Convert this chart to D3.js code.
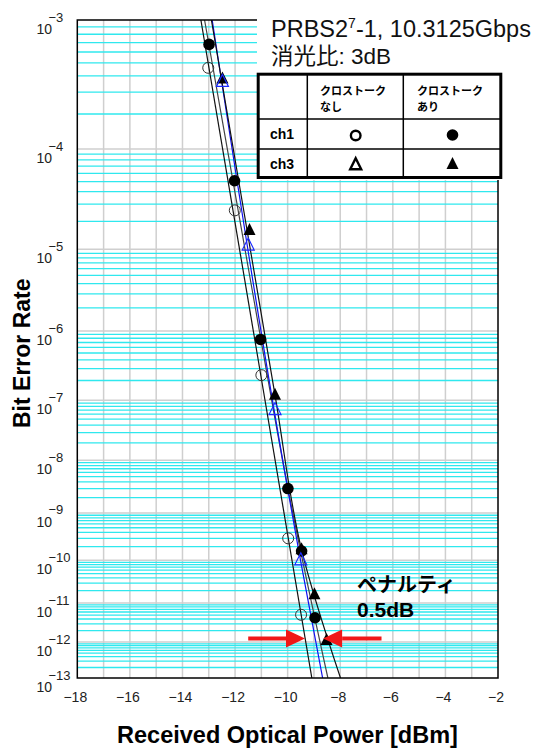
<!DOCTYPE html>
<html><head><meta charset="utf-8">
<script src="https://cdn.jsdelivr.net/npm/d3@7"></script>
<style>body{margin:0;background:#fff}svg{display:block}</style>
</head><body>
<svg id="c" width="533" height="749"></svg>
<script>
// ---------- data ----------
const xTickValues = [-18, -16, -14, -12, -10, -8, -6, -4, -2];
const xGridValues = [-17, -16, -15, -14, -13, -12, -11, -10, -9, -8, -7, -6, -5, -4, -3];
const yDecadeExponents = [3, 4, 5, 6, 7, 8, 9, 10, 11, 12, 13];
const yMinorMantissas = [2, 3, 4, 5, 6, 7, 8, 9];

// measured points
const ch1NoXtPower = [-13.02, -12.01, -11.0, -9.98, -9.49];
const ch1NoXtBer   = [4.6e-4, 2.6e-5, 2.4e-7, 3.0e-10, 5.1e-12];
const ch1XtPower   = [-12.99, -12.02, -11.03, -9.99, -9.47, -8.96];
const ch1XtBer     = [6.8e-4, 5.1e-5, 7.7e-7, 3.0e-9, 1.6e-10, 4.3e-12];
const ch3NoXtPower = [-12.48, -11.5, -10.48, -9.5];
const ch3NoXtBer   = [3.6e-4, 1.1e-5, 7.0e-8, 1.0e-10];
const ch3XtPower   = [-12.48, -11.45, -10.48, -9.47, -8.98, -8.52];
const ch3XtBer     = [3.8e-4, 1.6e-5, 1.2e-7, 1.7e-10, 1.6e-11, 1.1e-12];

// fitted curves
const fitCh1NoXtPower = [-13.30, -9.08];
const fitCh1NoXtBer   = [1e-3, 1e-13];
const fitCh1XtPower   = [-13.16, -11.02, -9.99, -8.47];
const fitCh1XtBer     = [1e-3, 7.8e-7, 3.0e-9, 1e-13];
const fitCh3NoXtPower = [-12.87, -9.51, -8.67];
const fitCh3NoXtBer   = [1e-3, 1.0e-10, 1e-13];
const fitCh3XtPower   = [-12.90, -10.48, -9.47, -7.99];
const fitCh3XtBer     = [1e-3, 1.2e-7, 1.7e-10, 1e-13];

// penalty annotation
const penaltyBer = 1.25e-12;
const leftArrowPower  = [-11.50, -9.34];   // tail, tip
const rightArrowPower = [-6.43, -8.65];    // tail, tip

// ---------- layout ----------
const L = 77.3, R = 498, T = 20, B = 678;
const svg = d3.select('#c');
const x = d3.scaleLinear().domain([-18, -2]).range([L, R]);
const yT = d3.scaleLinear().domain([Math.log10(3), Math.log10(13)]).range([T, B]);
const y = ber => yT(Math.log10(-Math.log10(ber)));
const LAT = "'Liberation Sans', Arial, sans-serif";
const CJK = "'Liberation Sans', 'Noto Sans CJK JP', sans-serif";

// vertical grid
svg.append('g').selectAll('line').data(xGridValues).join('line')
  .attr('x1', d => x(d)).attr('x2', d => x(d)).attr('y1', T).attr('y2', B)
  .attr('stroke', '#cfcfcf').attr('stroke-width', 1.5);

// minor cyan horizontal grid
const minor = [];
yDecadeExponents.slice(0, -1).forEach(n => yMinorMantissas.forEach(k => minor.push(k * Math.pow(10, -(n + 1)))));
svg.append('g').selectAll('line').data(minor).join('line')
  .attr('x1', L).attr('x2', R).attr('y1', d => y(d)).attr('y2', d => y(d))
  .attr('stroke', '#2fe8ee').attr('stroke-width', 1.3);

// decade gray lines
svg.append('g').selectAll('line').data(yDecadeExponents.slice(1, -1)).join('line')
  .attr('x1', L).attr('x2', R).attr('y1', d => y(Math.pow(10, -d))).attr('y2', d => y(Math.pow(10, -d)))
  .attr('stroke', '#cfcfcf').attr('stroke-width', 1.5);

// fitted curves
svg.append('clipPath').attr('id', 'pc').append('rect')
  .attr('x', L).attr('y', T).attr('width', R - L).attr('height', B - T);
const lineGen = d3.line().x(d => x(d[0])).y(d => y(d[1])).curve(d3.curveMonotoneY);
const fits = [
  {p: fitCh1NoXtPower, b: fitCh1NoXtBer, c: '#111'},
  {p: fitCh1XtPower, b: fitCh1XtBer, c: '#444'},
  {p: fitCh3NoXtPower, b: fitCh3NoXtBer, c: '#1010ee'},
  {p: fitCh3XtPower, b: fitCh3XtBer, c: '#111'}
];
const fg = svg.append('g').attr('clip-path', 'url(#pc)');
fits.forEach(f => {
  fg.append('path').datum(f.p.map((p, i) => [p, f.b[i]]))
    .attr('d', lineGen).attr('fill', 'none').attr('stroke', f.c).attr('stroke-width', 1.2);
});

// markers
const tri = s => `M0,${-s * 0.62}L${s / 2},${s * 0.38}L${-s / 2},${s * 0.38}Z`;
const mg = svg.append('g');
mg.selectAll('.oc').data(ch1NoXtPower.map((p, i) => [p, ch1NoXtBer[i]])).join('circle')
  .attr('cx', d => x(d[0])).attr('cy', d => y(d[1])).attr('r', 5.5)
  .attr('fill', 'none').attr('stroke', '#333').attr('stroke-width', 1);
mg.selectAll('.fc').data(ch1XtPower.map((p, i) => [p, ch1XtBer[i]])).join('circle')
  .attr('cx', d => x(d[0])).attr('cy', d => y(d[1])).attr('r', 5.8)
  .attr('fill', '#000');
mg.selectAll('.ft').data(ch3XtPower.map((p, i) => [p, ch3XtBer[i]])).join('path')
  .attr('transform', d => `translate(${x(d[0])},${y(d[1])})`).attr('d', tri(12))
  .attr('fill', '#000');
mg.selectAll('.ot').data(ch3NoXtPower.map((p, i) => [p, ch3NoXtBer[i]])).join('path')
  .attr('transform', d => `translate(${x(d[0])},${y(d[1])})`).attr('d', tri(12))
  .attr('fill', 'none').attr('stroke', '#1a2aff').attr('stroke-width', 1.2);

// frame
svg.append('rect').attr('x', L).attr('y', T).attr('width', R - L).attr('height', B - T)
  .attr('fill', 'none').attr('stroke', '#000').attr('stroke-width', 1.5);

// y tick labels
const yl = svg.append('g').attr('font-family', LAT).attr('fill', '#222');
yDecadeExponents.forEach(n => {
  const yy = y(Math.pow(10, -n));
  yl.append('text').attr('x', 36.5).attr('y', yy + 14).attr('font-size', 14).text('10');
  yl.append('text').attr('x', 48.5).attr('y', yy + 1.5).attr('font-size', 13).text('\u2212' + n);
});
// x tick labels
svg.append('g').selectAll('text').data(xTickValues).join('text')
  .attr('x', d => x(d) - 2).attr('y', 702).attr('text-anchor', 'middle')
  .attr('font-family', LAT).attr('font-size', 14).attr('fill', '#222')
  .text(d => '\u2212' + Math.abs(d));

// axis titles
svg.append('text').attr('x', 287.5).attr('y', 743).attr('text-anchor', 'middle')
  .attr('font-family', LAT).attr('font-weight', 'bold').attr('font-size', 23.5)
  .text('Received Optical Power [dBm]');
svg.append('text').attr('transform', 'translate(30,428) rotate(-90)')
  .attr('font-family', LAT).attr('font-weight', 'bold').attr('font-size', 23)
  .text('Bit Error Rate');

// white box top right
svg.append('rect').attr('x', 257).attr('y', 0).attr('width', 276).attr('height', 180).attr('fill', '#fff');

// title texts
const t1 = svg.append('text').attr('x', 271).attr('y', 37).attr('font-family', LAT).attr('font-size', 23.5).attr('fill', '#111');
t1.append('tspan').text('PRBS2');
t1.append('tspan').attr('font-size', 14).attr('dy', -9.5).text('7');
t1.append('tspan').attr('dy', 9.5).text('-1, 10.3125Gbps');
svg.append('text').attr('x', 271).attr('y', 63.5).attr('font-family', CJK).attr('font-size', 22.5).attr('fill', '#111')
  .text('消光比: 3dB');

// legend table
const tb = svg.append('g');
tb.append('rect').attr('x', 258.2).attr('y', 74.2).attr('width', 242.6).attr('height', 103.3)
  .attr('fill', '#fff').attr('stroke', '#000').attr('stroke-width', 3);
[[307.3, 74, 307.3, 178], [403.3, 74, 403.3, 178], [258, 119, 501, 119], [258, 149, 501, 149]].forEach(l => {
  tb.append('line').attr('x1', l[0]).attr('y1', l[1]).attr('x2', l[2]).attr('y2', l[3])
    .attr('stroke', '#000').attr('stroke-width', 1.5);
});
const hdr = [['クロストーク', 'なし', 320], ['クロストーク', 'あり', 417]];
hdr.forEach(h => {
  tb.append('text').attr('x', h[2]).attr('y', 95).attr('font-family', "'Noto Sans CJK JP', sans-serif")
    .attr('font-weight', 'bold').attr('font-size', 11).text(h[0]);
  tb.append('text').attr('x', h[2]).attr('y', 111).attr('font-family', "'Noto Sans CJK JP', sans-serif")
    .attr('font-weight', 'bold').attr('font-size', 11).text(h[1]);
});
tb.append('text').attr('x', 282).attr('y', 139).attr('text-anchor', 'middle').attr('font-family', LAT)
  .attr('font-weight', 'bold').attr('font-size', 14).text('ch1');
tb.append('text').attr('x', 282).attr('y', 168.5).attr('text-anchor', 'middle').attr('font-family', LAT)
  .attr('font-weight', 'bold').attr('font-size', 14).text('ch3');
tb.append('circle').attr('cx', 355.7).attr('cy', 135.5).attr('r', 4.8).attr('fill', 'none').attr('stroke', '#000').attr('stroke-width', 2.4);
tb.append('circle').attr('cx', 452.5).attr('cy', 135).attr('r', 5.8).attr('fill', '#000');
tb.append('path').attr('transform', 'translate(355.7,165)').attr('d', tri(11)).attr('fill', 'none').attr('stroke', '#000').attr('stroke-width', 2.4);
tb.append('path').attr('transform', 'translate(452.5,164.5)').attr('d', tri(12)).attr('fill', '#000');

// penalty annotation
svg.append('text').attr('x', 357).attr('y', 592).attr('font-family', "'Noto Sans CJK JP', sans-serif")
  .attr('font-weight', 'bold').attr('font-size', 20).text('ペナルティ');
svg.append('text').attr('x', 357).attr('y', 617).attr('font-family', LAT)
  .attr('font-weight', 'bold').attr('font-size', 21).text('0.5dB');
const ay = y(penaltyBer);
const red = '#f01818';
[leftArrowPower, rightArrowPower].forEach(a => {
  const tail = x(a[0]), tip = x(a[1]);
  const dir = Math.sign(tip - tail);
  const base = tip - dir * 19;
  svg.append('line').attr('x1', tail).attr('x2', base).attr('y1', ay).attr('y2', ay)
    .attr('stroke', red).attr('stroke-width', 4);
  svg.append('path').attr('d', `M${tip},${ay}L${base},${ay - 9}L${base},${ay + 9}Z`).attr('fill', red);
});
</script>
</body></html>
